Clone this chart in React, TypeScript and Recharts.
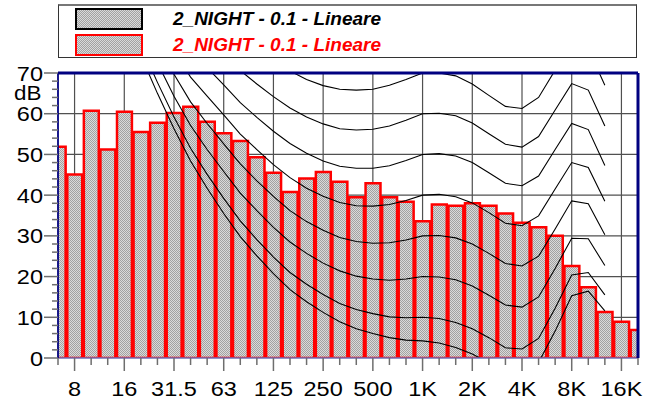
import React from 'react'
import { Bar, CartesianGrid, ComposedChart, Line, ReferenceLine, XAxis, YAxis } from 'recharts'

// third-octave bands, 6.3 Hz .. 20 kHz
const bandLabels = [
  '6.3', '8', '10', '12.5', '16', '20', '25', '31.5', '40', '50', '63', '80',
  '100', '125', '160', '200', '250', '315', '400', '500', '630', '800', '1K', '1.25K',
  '1.6K', '2K', '2.5K', '3.15K', '4K', '5K', '6.3K', '8K', '10K', '12.5K', '16K', '20K',
]

// measured spectrum (dB)
const levels = [
  51.9, 45.1, 60.7, 51.2, 60.5, 55.5, 57.8, 60.2, 61.7, 58.0, 55.2, 53.3,
  49.3, 45.5, 40.8, 44.1, 45.7, 43.3, 39.5, 42.9, 39.5, 38.4, 33.6, 37.7,
  37.4, 38.0, 37.4, 35.5, 33.2, 32.1, 30.0, 22.6, 17.4, 11.3, 8.9, 6.9,
]

const octaveLabels = ['8', '16', '31.5', '63', '125', '250', '500', '1K', '2K', '4K', '8K', '16K']

// equal loudness contours, bands 20 Hz .. 12.5 kHz
const contourStart = '20'
const phon70 = [107.6, 100.7, 94.3, 89.2, 86.4, 82.8, 78.9, 75.8, 73.0, 70.5, 68.4, 66.9, 66.0, 65.8, 66.0, 67.0, 68.4, 70.0, 70.0, 69.3, 67.3, 64.5, 61.8, 61.3, 64.0, 70.7, 77.4, 75.9, 67.0]
const phon60 = [101.7, 94.4, 87.6, 82.1, 78.6, 74.8, 70.6, 67.3, 64.2, 61.4, 59.2, 57.5, 56.3, 56.0, 56.2, 57.0, 58.4, 60.0, 60.1, 59.5, 57.7, 55.1, 52.5, 51.8, 54.4, 60.9, 67.4, 65.8, 57.0]
const phon50 = [96.2, 88.5, 81.3, 75.4, 71.3, 67.1, 62.7, 59.1, 55.7, 52.7, 50.3, 48.4, 47.1, 46.6, 46.6, 47.2, 48.5, 50.0, 50.2, 49.6, 48.0, 45.5, 42.9, 42.3, 44.7, 51.2, 57.6, 56.1, 47.3]
const phon40 = [91.0, 82.9, 75.4, 69.0, 64.3, 59.7, 55.0, 51.2, 47.5, 44.3, 41.7, 39.7, 38.2, 37.4, 37.3, 37.7, 38.7, 40.0, 40.2, 39.6, 38.1, 35.7, 33.1, 32.5, 34.9, 41.5, 48.0, 46.8, 38.5]
const phon30 = [86.0, 77.6, 69.7, 62.9, 57.6, 52.6, 47.7, 43.5, 39.7, 36.2, 33.5, 31.4, 29.6, 28.6, 28.2, 28.3, 29.0, 30.0, 30.1, 29.5, 28.0, 25.7, 23.2, 22.6, 25.0, 31.7, 38.6, 37.9, 30.3]
const phon20 = [81.3, 72.5, 64.3, 57.1, 51.2, 45.8, 40.5, 36.2, 32.1, 28.5, 25.7, 23.3, 21.4, 20.1, 19.4, 19.1, 19.4, 20.0, 19.9, 19.2, 17.7, 15.4, 13.0, 12.5, 15.0, 22.0, 29.4, 29.3, 22.7]
const phon10 = [76.8, 67.7, 59.2, 51.5, 45.1, 39.2, 33.7, 29.1, 24.8, 21.0, 18.1, 15.6, 13.4, 11.9, 10.9, 10.1, 9.9, 10.0, 9.7, 8.7, 7.2, 5.0, 2.5, 2.2, 4.8, 12.2, 20.4, 21.0, 15.5]
const threshold = [74.3, 65.0, 56.3, 48.4, 41.7, 35.5, 29.8, 25.1, 20.7, 16.8, 13.8, 11.2, 8.9, 7.2, 6.0, 5.0, 4.4, 4.2, 3.7, 2.6, 1.0, -1.2, -3.6, -3.9, -1.1, 6.6, 15.3, 16.4, 11.6]

const contours = [
  { key: 'p70', values: phon70 },
  { key: 'p60', values: phon60 },
  { key: 'p50', values: phon50 },
  { key: 'p40', values: phon40 },
  { key: 'p30', values: phon30 },
  { key: 'p20', values: phon20 },
  { key: 'p10', values: phon10 },
  { key: 'thr', values: threshold },
]

const legendItems = [
  { label: '2_NIGHT - 0.1 - Lineare', color: '#000000' },
  { label: '2_NIGHT - 0.1 - Lineare', color: '#ff0000' },
]

const start = bandLabels.indexOf(contourStart)
const rows = bandLabels.map((band, idx) => {
  const row: Record<string, number | string | null> = { idx, band, level: levels[idx] }
  contours.forEach((c) => {
    const k = idx - start
    row[c.key] = k >= 0 && k < c.values.length ? c.values[k] : null
  })
  return row
})

const xTicks = bandLabels.map((_, i) => i)
const yTicks = Array.from({ length: 36 }, (_, i) => i * 2)
const FONT = '"Liberation Sans", Arial, sans-serif'

function XTick(props: any) {
  const { x, y, payload } = props
  const label = bandLabels[payload.value]
  const major = octaveLabels.includes(label)
  return (
    <g>
      <line x1={x} x2={x} y1={y} y2={y + (major ? 13 : 7)} stroke="#6e6e6e" strokeWidth={1.5} />
      {major && (
        <text
          transform={`translate(${x} ${y + 38}) scale(1.12 1)`}
          textAnchor="middle"
          fontSize={21}
          fontFamily={FONT}
          fill="#000"
        >
          {label}
        </text>
      )}
    </g>
  )
}

function YTick(props: any) {
  const { x, y, payload } = props
  const major = payload.value % 10 === 0
  return (
    <g>
      <line x1={x - (major ? 14 : 6)} x2={x} y1={y} y2={y} stroke="#6e6e6e" strokeWidth={1.5} />
      {major && (
        <text
          transform={`translate(${x - 15} ${y}) scale(1.12 1)`}
          textAnchor="end"
          dy="0.36em"
          fontSize={21}
          fontFamily={FONT}
          fill="#000"
        >
          {payload.value}
        </text>
      )}
    </g>
  )
}

function DbLabel(props: any) {
  const vb = props.viewBox || { x: 0, y: 73 }
  return (
    <text transform={`translate(${vb.x + 14} ${vb.y + 27}) scale(1.12 1)`} fontSize={20} fontFamily={FONT} fill="#000">
      dB
    </text>
  )
}

export default function App() {
  return (
    <div style={{ position: 'absolute', left: 0, top: 0, width: 645, height: 403, background: '#fff' }}>
      <svg width={0} height={0} style={{ position: 'absolute' }}>
        <defs>
          <pattern id="hatch" width={2} height={2} patternUnits="userSpaceOnUse">
            <rect width={2} height={2} fill="#dadada" />
            <rect width={1} height={1} fill="#a2a2a2" />
            <rect x={1} y={1} width={1} height={1} fill="#a2a2a2" />
          </pattern>
        </defs>
      </svg>

      <ComposedChart
        width={645}
        height={403}
        data={rows}
        margin={{ top: 73, right: 7, bottom: 0, left: 0 }}
        barCategoryGap={0}
        barGap={0}
      >
        <CartesianGrid
          stroke="#505050"
          strokeWidth={1.2}
          horizontalValues={[10, 20, 30, 40, 50, 60]}
          verticalValues={octaveLabels.map((l) => bandLabels.indexOf(l))}
        />
        <XAxis
          type="number"
          dataKey="idx"
          domain={[0, 35]}
          allowDataOverflow
          ticks={xTicks}
          interval={0}
          height={45}
          tickSize={0}
          tickMargin={0}
          axisLine={false}
          tickLine={false}
          tick={(p: any) => <XTick {...p} />}
        />
        <YAxis
          type="number"
          domain={[0, 70]}
          allowDataOverflow
          ticks={yTicks}
          interval={0}
          width={58}
          tickSize={0}
          tickMargin={0}
          axisLine={false}
          tickLine={false}
          tick={(p: any) => <YTick {...p} />}
          label={(p: any) => <DbLabel {...p} />}
        />
        <Bar
          dataKey="level"
          fill="url(#hatch)"
          stroke="#ff0000"
          strokeWidth={2.5}
          barSize={16.6}
          isAnimationActive={false}
        />
        {contours.map((c) => (
          <Line
            key={c.key}
            dataKey={c.key}
            type="linear"
            stroke="#000"
            strokeWidth={1.1}
            dot={false}
            activeDot={false}
            isAnimationActive={false}
          />
        ))}
        <ReferenceLine y={0} stroke="#7070b8" strokeWidth={1.5} />
        <ReferenceLine x={0} stroke="#000080" strokeWidth={1.8} />
        <ReferenceLine y={70} stroke="#000080" strokeWidth={3} />
        <ReferenceLine x={35} stroke="#000080" strokeWidth={3} />
      </ComposedChart>

      <div
        style={{
          position: 'absolute',
          left: 58,
          top: 4,
          width: 579,
          height: 54,
          border: '1px solid #333',
          borderTop: '2px solid #777',
          boxSizing: 'border-box',
          fontFamily: FONT,
        }}
      >
        {legendItems.map((it, k) => (
          <div
            key={k}
            style={{ position: 'absolute', left: 16, top: 2 + k * 26, height: 22, display: 'flex', alignItems: 'center' }}
          >
            <svg width={68} height={22}>
              <rect x={1} y={1} width={66} height={20} fill="url(#hatch)" stroke={it.color} strokeWidth={2} />
            </svg>
            <span
              style={{ marginLeft: 30, fontSize: 19, fontWeight: 'bold', fontStyle: 'italic', color: it.color, whiteSpace: 'nowrap' }}
            >
              {it.label}
            </span>
          </div>
        ))}
      </div>
    </div>
  )
}
